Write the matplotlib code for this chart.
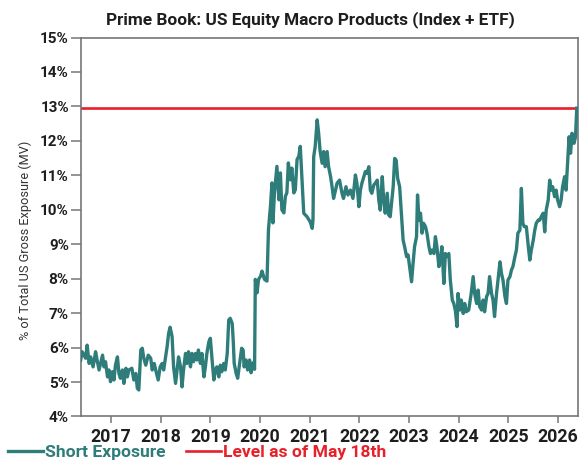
import matplotlib
matplotlib.use("Agg")
import matplotlib.pyplot as plt

plt.rcParams["font.family"] = ["Roboto", "DejaVu Sans"]

# Short exposure in US equity macro products, % of total US gross exposure (MV),
# as (decimal year, value) pairs grouped by calendar year.
exposure_2016 = [(2016.39, 5.64), (2016.42, 5.88), (2016.49, 5.69), (2016.52, 6.07), (2016.56, 5.54),
                 (2016.59, 5.73), (2016.64, 5.44), (2016.69, 5.88), (2016.72, 5.64), (2016.76, 5.35),
                 (2016.83, 5.78), (2016.86, 5.44), (2016.89, 5.59), (2016.93, 5.15), (2016.96, 5.35),
                 (2016.99, 5.01)]
exposure_2017 = [(2017.03, 5.30), (2017.06, 5.06), (2017.09, 5.49), (2017.13, 5.73), (2017.16, 5.25),
                 (2017.19, 5.11), (2017.23, 5.35), (2017.26, 4.96), (2017.30, 5.40), (2017.33, 5.15),
                 (2017.36, 5.35), (2017.42, 5.40), (2017.46, 5.06), (2017.50, 5.25), (2017.53, 4.82),
                 (2017.56, 4.77), (2017.60, 5.93), (2017.63, 5.98), (2017.66, 5.69), (2017.70, 5.49),
                 (2017.75, 5.78), (2017.80, 5.69), (2017.83, 5.35), (2017.87, 5.54), (2017.90, 5.35),
                 (2017.95, 5.06), (2017.99, 5.44)]
exposure_2018 = [(2018.03, 5.54), (2018.06, 5.35), (2018.09, 5.64), (2018.13, 6.03), (2018.16, 6.41),
                 (2018.19, 6.59), (2018.23, 6.32), (2018.26, 5.44), (2018.30, 4.96), (2018.33, 5.35),
                 (2018.36, 5.73), (2018.40, 5.44), (2018.43, 4.86), (2018.46, 5.35), (2018.50, 5.83),
                 (2018.53, 5.54), (2018.56, 5.88), (2018.60, 5.44), (2018.63, 5.83), (2018.66, 5.59),
                 (2018.70, 5.83), (2018.73, 5.64), (2018.76, 5.93), (2018.80, 5.54), (2018.83, 5.83),
                 (2018.87, 5.15), (2018.90, 5.44), (2018.93, 5.83), (2018.97, 6.17)]
exposure_2019 = [(2019.00, 6.27), (2019.03, 5.73), (2019.07, 5.06), (2019.10, 5.35), (2019.13, 5.44),
                 (2019.17, 5.15), (2019.20, 5.49), (2019.23, 5.30), (2019.27, 5.54), (2019.30, 5.35),
                 (2019.34, 5.83), (2019.37, 6.80), (2019.40, 6.85), (2019.44, 6.70), (2019.46, 6.22),
                 (2019.48, 5.54), (2019.52, 5.25), (2019.55, 5.11), (2019.59, 5.54), (2019.63, 5.98),
                 (2019.66, 5.93), (2019.68, 5.44), (2019.72, 5.64), (2019.75, 5.35), (2019.79, 5.64),
                 (2019.82, 5.27), (2019.86, 5.56), (2019.89, 5.37), (2019.905, 7.98), (2019.94, 7.59),
                 (2019.97, 7.98)]
exposure_2020 = [(2020.01, 8.07), (2020.04, 8.22), (2020.09, 7.98), (2020.14, 7.93), (2020.17, 9.43),
                 (2020.21, 10.10), (2020.24, 10.78), (2020.26, 9.62), (2020.29, 10.49), (2020.34, 11.26),
                 (2020.38, 10.29), (2020.41, 11.07), (2020.44, 10.00), (2020.48, 9.91), (2020.51, 10.39),
                 (2020.54, 10.49), (2020.57, 11.36), (2020.61, 10.87), (2020.64, 11.21), (2020.68, 10.49),
                 (2020.71, 10.58), (2020.745, 11.46), (2020.78, 11.55), (2020.81, 11.84), (2020.845, 10.86),
                 (2020.88, 9.90), (2020.945, 9.80)]
exposure_2021 = [(2021.01, 9.65), (2021.05, 9.46), (2021.066, 9.70), (2021.08, 11.54), (2021.11, 11.83),
                 (2021.15, 12.61), (2021.18, 12.22), (2021.21, 11.69), (2021.25, 11.35), (2021.28, 11.69),
                 (2021.31, 11.25), (2021.35, 11.69), (2021.38, 11.25), (2021.42, 10.96), (2021.45, 10.67),
                 (2021.48, 10.33), (2021.52, 10.57), (2021.55, 10.77), (2021.60, 10.86), (2021.65, 10.48),
                 (2021.68, 10.33), (2021.73, 10.67), (2021.77, 10.43), (2021.82, 10.57), (2021.87, 10.33),
                 (2021.92, 11.01), (2021.95, 10.77), (2021.99, 10.09)]
exposure_2022 = [(2022.02, 10.57), (2022.05, 10.77), (2022.09, 10.96), (2022.12, 11.11), (2022.15, 11.06),
                 (2022.19, 11.25), (2022.22, 10.57), (2022.25, 10.48), (2022.29, 10.72), (2022.32, 10.77),
                 (2022.36, 10.86), (2022.39, 10.28), (2022.42, 9.99), (2022.46, 10.96), (2022.49, 10.28),
                 (2022.52, 9.90), (2022.56, 10.48), (2022.59, 9.85), (2022.62, 9.80), (2022.68, 10.67),
                 (2022.71, 11.49), (2022.74, 11.44), (2022.77, 10.91), (2022.81, 10.67), (2022.85, 9.80),
                 (2022.88, 9.12), (2022.91, 8.93), (2022.95, 8.64), (2022.98, 8.69)]
exposure_2023 = [(2023.01, 8.35), (2023.05, 7.91), (2023.08, 8.44), (2023.11, 8.93), (2023.15, 9.22),
                 (2023.17, 10.43), (2023.20, 9.70), (2023.23, 9.90), (2023.26, 9.32), (2023.29, 9.61),
                 (2023.33, 9.51), (2023.36, 9.32), (2023.40, 8.93), (2023.43, 8.73), (2023.46, 8.83),
                 (2023.50, 8.73), (2023.53, 9.22), (2023.56, 8.93), (2023.60, 8.35), (2023.63, 8.54),
                 (2023.66, 8.93), (2023.70, 7.86), (2023.73, 8.73), (2023.76, 8.64), (2023.80, 8.73),
                 (2023.83, 7.96), (2023.87, 7.38), (2023.90, 7.28), (2023.93, 7.09), (2023.965, 6.61),
                 (2023.985, 7.57)]
exposure_2024 = [(2024.02, 7.09), (2024.05, 7.38), (2024.09, 6.99), (2024.12, 7.28), (2024.15, 7.04),
                 (2024.20, 7.09), (2024.25, 7.57), (2024.29, 8.06), (2024.32, 7.57), (2024.36, 7.28),
                 (2024.39, 7.67), (2024.42, 7.19), (2024.46, 7.09), (2024.49, 7.38), (2024.52, 7.04),
                 (2024.56, 7.48), (2024.59, 7.57), (2024.62, 8.06), (2024.66, 7.57), (2024.69, 7.38),
                 (2024.72, 6.90), (2024.76, 7.57), (2024.79, 7.96), (2024.83, 8.49), (2024.86, 8.15),
                 (2024.89, 7.96), (2024.93, 7.48), (2024.96, 7.28), (2024.99, 7.96)]
exposure_2025 = [(2025.03, 8.06), (2025.06, 8.25), (2025.09, 8.35), (2025.13, 8.64), (2025.16, 8.83),
                 (2025.19, 9.32), (2025.23, 9.41), (2025.26, 10.62), (2025.29, 9.61), (2025.32, 9.51),
                 (2025.36, 9.51), (2025.40, 8.93), (2025.43, 8.54), (2025.46, 8.83), (2025.50, 9.12),
                 (2025.53, 9.41), (2025.56, 9.61), (2025.60, 9.70), (2025.63, 9.70), (2025.66, 9.80),
                 (2025.70, 9.90), (2025.73, 9.36), (2025.76, 9.99), (2025.80, 10.28), (2025.83, 10.86),
                 (2025.86, 10.57), (2025.89, 10.67), (2025.93, 10.38), (2025.96, 10.57), (2025.99, 10.28)]
exposure_2026 = [(2026.03, 10.09), (2026.06, 10.28), (2026.09, 10.67), (2026.13, 10.96), (2026.16, 10.57),
                 (2026.19, 11.35), (2026.22, 12.12), (2026.25, 11.64), (2026.28, 12.22), (2026.32, 11.93),
                 (2026.35, 12.12), (2026.375, 12.95)]

level_may_18 = 12.95

year_ticks = [2017, 2018, 2019, 2020, 2021, 2022, 2023, 2024, 2025, 2026]
pct_ticks = [4, 5, 6, 7, 8, 9, 10, 11, 12, 13, 14, 15]
pct_labels = [f"{p}%" for p in pct_ticks]

series = (exposure_2016 + exposure_2017 + exposure_2018 + exposure_2019 + exposure_2020 +
          exposure_2021 + exposure_2022 + exposure_2023 + exposure_2024 + exposure_2025 +
          exposure_2026)
dates = [d for d, _ in series]
values = [v for _, v in series]

TEAL = "#2f7d7a"
RED = "#e8202a"
SPINE = "#777777"

fig = plt.figure(figsize=(5.8, 4.62), dpi=100)
ax = fig.add_axes([0.1391, 0.0985, 0.9957 - 0.1391, 0.9188 - 0.0985])

short_line, = ax.plot(dates, values, color=TEAL, lw=2.4, solid_joinstyle="round",
                      label="Short Exposure", zorder=3)
level_line = ax.axhline(level_may_18, color=RED, lw=1.9, label="Level as of May 18th", zorder=2)

ax.set_xlim(2016.39, 2026.39)
ax.set_ylim(4, 15)
ax.set_xticks(year_ticks)
ax.set_xticklabels([str(y) for y in year_ticks])
ax.set_yticks(pct_ticks)
ax.set_yticklabels(pct_labels)

for side in ["left", "right", "top", "bottom"]:
    ax.spines[side].set_color(SPINE)
    ax.spines[side].set_linewidth(1.2)

ax.tick_params(axis="x", length=5, width=1.1, color=SPINE, pad=3.5,
               labelsize=12.8, labelcolor="#1e1e1e")
ax.tick_params(axis="y", length=7.5, width=1.1, color=SPINE, pad=1,
               labelsize=11, labelcolor="#1e1e1e")
for lbl in ax.get_xticklabels() + ax.get_yticklabels():
    lbl.set_fontweight("bold")

fig.text(0.535, 0.957, "Prime Book: US Equity Macro Products (Index + ETF)",
         ha="center", va="center", fontsize=12.4, fontweight="bold", color="#1e1e1e")
fig.text(0.043, 0.48, "% of Total US Gross Exposure (MV)", rotation=90,
         ha="center", va="center", fontsize=9.2, color="#333333")

fig.legend(handles=[short_line, level_line], loc="center left",
           bbox_to_anchor=(0.014, 0.021), ncol=2, frameon=False,
           borderpad=0, borderaxespad=0, handlelength=2.0, handletextpad=0.1,
           columnspacing=1.2, labelcolor="linecolor",
           prop={"weight": "bold", "size": 12.6})

fig.savefig("out.png", dpi=100, facecolor="white")
